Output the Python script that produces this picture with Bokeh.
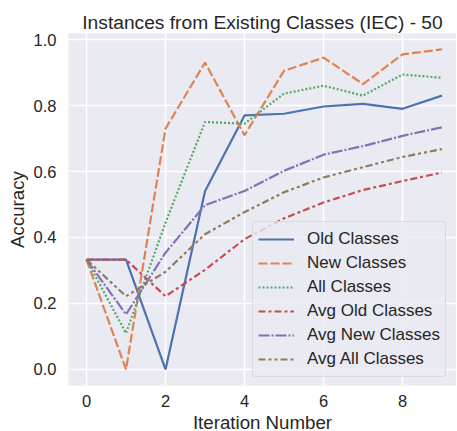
from bokeh.plotting import figure
from bokeh.models import Range1d, FixedTicker, PrintfTickFormatter
from bokeh.embed import file_html
from bokeh.resources import INLINE

iterations = [0, 1, 2, 3, 4, 5, 6, 7, 8, 9]
old_classes = [0.333, 0.333, 0.0, 0.54, 0.77, 0.775, 0.797, 0.805, 0.79, 0.83]
new_classes = [0.333, 0.0, 0.73, 0.93, 0.71, 0.905, 0.945, 0.865, 0.955, 0.97]
all_classes = [0.333, 0.11, 0.445, 0.75, 0.745, 0.836, 0.86, 0.83, 0.894, 0.884]
avg_old_classes = [0.333, 0.333, 0.222, 0.302, 0.395, 0.458, 0.506, 0.544, 0.571, 0.597]
avg_new_classes = [0.333, 0.167, 0.354, 0.498, 0.541, 0.602, 0.651, 0.677, 0.708, 0.734]
avg_all_classes = [0.333, 0.222, 0.296, 0.41, 0.477, 0.537, 0.582, 0.613, 0.644, 0.668]

x_ticks = [0, 2, 4, 6, 8]
y_ticks = [0.0, 0.2, 0.4, 0.6, 0.8, 1.0]

FONT = "Liberation Sans"
TXT = "#262626"

p = figure(frame_width=388, frame_height=352,
           x_range=Range1d(-0.456, 9.367), y_range=Range1d(-0.0485, 1.0182),
           min_border_left=68, min_border_right=0, min_border_top=33, min_border_bottom=46,
           output_backend="svg", toolbar_location=None,
           title="Instances from Existing Classes (IEC) - 50")

p.background_fill_color = "#EAEAF2"
p.border_fill_color = "white"
p.outline_line_color = None

p.title.text_font = FONT
p.title.text_font_size = "19.2px"
p.title.text_font_style = "normal"
p.title.text_color = TXT
p.title.align = "center"
p.title.offset = 2
p.title.standoff = 1

p.xaxis.ticker = FixedTicker(ticks=x_ticks)
p.yaxis.ticker = FixedTicker(ticks=y_ticks)
p.yaxis.formatter = PrintfTickFormatter(format="%.1f")
p.xaxis.axis_label = "Iteration Number"
p.yaxis.axis_label = "Accuracy"

for ax in (p.xaxis, p.yaxis):
    ax.axis_line_color = None
    ax.major_tick_line_color = None
    ax.minor_tick_line_color = None
    ax.major_tick_out = 0
    ax.major_tick_in = 0
    ax.minor_tick_out = 0
    ax.minor_tick_in = 0
    ax.major_label_text_font = FONT
    ax.major_label_text_font_size = "16.5px"
    ax.major_label_text_color = TXT
    ax.axis_label_text_font = FONT
    ax.axis_label_text_font_size = "18.7px"
    ax.axis_label_text_font_style = "normal"
    ax.axis_label_text_color = TXT

p.xaxis.major_label_standoff = 9
p.xaxis.axis_label_standoff = 2
p.yaxis.major_label_standoff = 12
p.yaxis.axis_label_standoff = 3

p.grid.grid_line_color = "white"
p.grid.grid_line_width = 1.5

LW = 2.2
p.line(iterations, old_classes, line_color="#4C72B0", line_width=LW, legend_label="Old Classes")
p.line(iterations, new_classes, line_color="#DD8452", line_width=LW, line_dash="9 3", legend_label="New Classes")
p.line(iterations, all_classes, line_color="#55A868", line_width=LW, line_dash="2 2", legend_label="All Classes")
p.line(iterations, avg_old_classes, line_color="#C44E52", line_width=LW, line_dash="7 3 3 3", legend_label="Avg Old Classes")
p.line(iterations, avg_new_classes, line_color="#8172B3", line_width=LW, line_dash="11 2 2 2", legend_label="Avg New Classes")
p.line(iterations, avg_all_classes, line_color="#937860", line_width=LW, line_dash="7 3 3 3 3 3", legend_label="Avg All Classes")

lg = p.legend[0]
lg.location = (184, 8)
lg.background_fill_color = "#EAEAF2"
lg.background_fill_alpha = 0.8
lg.border_line_color = "#CCCCCC"
lg.border_line_width = 1
lg.border_radius = 3
lg.label_text_font = FONT
lg.label_text_font_size = "17px"
lg.label_text_color = TXT
lg.glyph_width = 36
lg.glyph_height = 24
lg.label_height = 24
lg.label_standoff = 13
lg.padding = 5
lg.spacing = 0
lg.margin = 0

open("out.html", "w").write(file_html(p, INLINE))
